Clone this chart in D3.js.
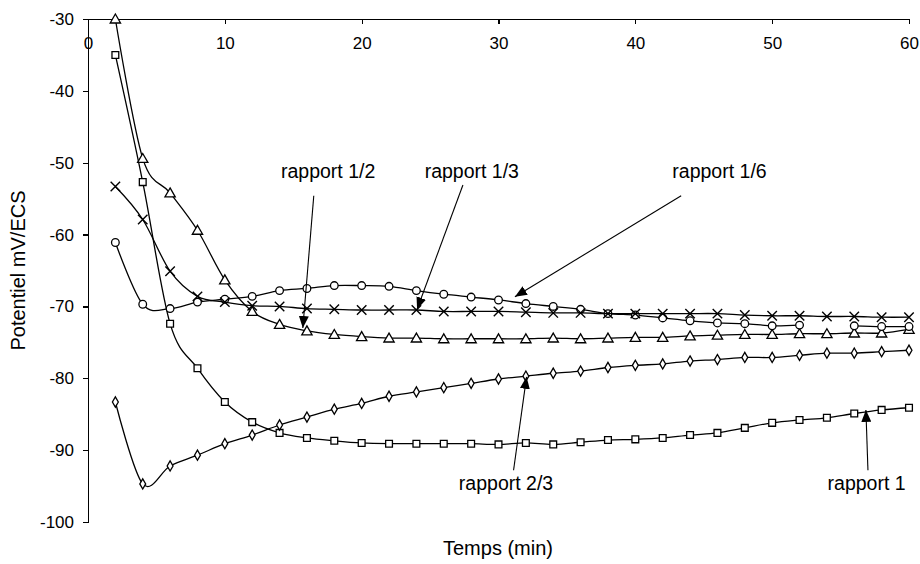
<!DOCTYPE html>
<html>
<head>
<meta charset="utf-8">
<script src="https://cdn.jsdelivr.net/npm/d3@7/dist/d3.min.js"></script>
<style>
  body { margin: 0; background: #fff; }
  svg { display: block; font-family: "Liberation Sans", Arial, sans-serif; }
  .axis path, .axis line { stroke: #000; stroke-width: 1.2; shape-rendering: crispEdges; }
  .axis text { font-size: 17px; fill: #000; }
</style>
</head>
<body>
<svg id="chart" width="920" height="564"></svg>
<script>
// temps (min)
var times = [2, 4, 6, 8, 10, 12, 14, 16, 18, 20, 22, 24, 26, 28, 30,
             32, 34, 36, 38, 40, 42, 44, 46, 48, 50, 52, 54, 56, 58, 60];

// potentiel mV/ECS pour chaque rapport
var rapport1 = [-35.0, -52.7, -72.4, -78.6, -83.3, -86.1, -87.6, -88.3, -88.7, -89.0,
                -89.1, -89.1, -89.1, -89.1, -89.2, -89.0, -89.2, -88.9, -88.6, -88.5,
                -88.3, -87.9, -87.6, -86.9, -86.2, -85.8, -85.5, -84.9, -84.4, -84.1];
var rapport12 = [-30.0, -49.4, -54.2, -59.4, -66.3, -70.7, -72.5, -73.4, -73.9, -74.2,
                 -74.4, -74.4, -74.5, -74.5, -74.5, -74.5, -74.4, -74.5, -74.4, -74.3,
                 -74.3, -74.1, -74.0, -73.9, -73.9, -73.8, -73.8, -73.7, -73.7, -73.2];
var rapport23 = [-83.3, -94.7, -92.2, -90.7, -89.1, -87.9, -86.5, -85.4, -84.3, -83.5,
                 -82.5, -81.9, -81.3, -80.7, -80.1, -79.7, -79.3, -79.0, -78.5, -78.2,
                 -78.0, -77.6, -77.4, -77.1, -77.1, -76.8, -76.5, -76.5, -76.3, -76.1];
var rapport16 = [-61.1, -69.7, -70.3, -69.4, -69.0, -68.6, -67.8, -67.5, -67.1, -67.1,
                 -67.2, -67.8, -68.3, -68.7, -69.1, -69.6, -70.0, -70.4, -71.0, -71.2,
                 -71.6, -72.0, -72.3, -72.4, -72.7, -72.6, null, -72.7, -72.8, -72.8];
var rapport13 = [-53.3, -57.9, -65.1, -68.6, -69.4, -69.9, -70.0, -70.3, -70.4, -70.5,
                 -70.5, -70.5, -70.7, -70.7, -70.7, -70.8, -70.9, -70.9, -71.0, -71.0,
                 -71.0, -71.0, -71.0, -71.2, -71.3, -71.3, -71.4, -71.4, -71.5, -71.5];

var xTicks = [0, 10, 20, 30, 40, 50, 60];
var yTicks = [-30, -40, -50, -60, -70, -80, -90, -100];

// annotations, en unites du graphique : texte, debut du trait, pointe de la fleche
var annLabels = ["rapport 1/2", "rapport 1/3", "rapport 1/6", "rapport 2/3", "rapport 1"];
var annText = [[17.55, -52.1], [28.05, -52.1], [46.15, -52.1], [30.55, -95.5], [56.9, -95.5]];
var annFrom = [[16.5, -54.6], [27.4, -53.1], [43.35, -54.6], [31.1, -92.8], [57.0, -92.8]];
var annTo   = [[15.7, -73.0], [24.05, -70.4], [31.2, -68.65], [32.05, -79.8], [56.85, -84.4]];

var svg = d3.select("#chart");

var x = d3.scaleLinear().domain([0, 60]).range([88, 909]);
var y = d3.scaleLinear().domain([-100, -30]).range([522, 19]);

var plain = function(d){ return String(d); };

// axe des x en haut (croise a -30), etiquettes sous la ligne
svg.append("g")
  .attr("class", "axis")
  .attr("transform", "translate(0," + y(-30) + ")")
  .call(d3.axisBottom(x).tickValues(xTicks).tickFormat(plain)
    .tickSize(5).tickSizeOuter(0).tickPadding(13));

svg.append("g")
  .attr("class", "axis")
  .attr("transform", "translate(" + x(0) + ",0)")
  .call(d3.axisLeft(y).tickValues(yTicks).tickFormat(plain)
    .tickSize(5).tickSizeOuter(0).tickPadding(9));

svg.append("text")
  .attr("transform", "translate(25," + ((y(-30) + y(-100)) / 2) + ") rotate(-90)")
  .attr("text-anchor", "middle")
  .style("font-size", "20px")
  .text("Potentiel mV/ECS");

svg.append("text")
  .attr("x", 498)
  .attr("y", 555)
  .attr("text-anchor", "middle")
  .style("font-size", "20px")
  .text("Temps (min)");

var series = [
  {vals: rapport1, mark: "square"},
  {vals: rapport12, mark: "triangle"},
  {vals: rapport23, mark: "diamond"},
  {vals: rapport16, mark: "circle"},
  {vals: rapport13, mark: "cross"}
];

var line = d3.line()
  .defined(function(d){ return d[1] !== null; })
  .x(function(d){ return x(d[0]); })
  .y(function(d){ return y(d[1]); })
  .curve(d3.curveCatmullRom.alpha(0));

var symbols = {
  square: d3.symbol().type(d3.symbolSquare).size(46),
  triangle: d3.symbol().type(d3.symbolTriangle).size(46),
  diamond: d3.symbol().type(d3.symbolDiamond).size(30),
  circle: d3.symbol().type(d3.symbolCircle).size(46),
  cross: d3.symbol().type(d3.symbolX).size(60)
};

series.forEach(function(s){
  var pts = times.map(function(t, i){ return [t, s.vals[i]]; });
  svg.append("path")
    .datum(pts)
    .attr("d", line)
    .attr("fill", "none")
    .attr("stroke", "#000")
    .attr("stroke-width", 1.3);
  svg.append("g").selectAll("path")
    .data(pts.filter(function(d){ return d[1] !== null; }))
    .join("path")
    .attr("transform", function(d){
      var dy = s.mark === "triangle" ? 1 : 0;
      return "translate(" + x(d[0]) + "," + (y(d[1]) + dy) + ")";
    })
    .attr("d", symbols[s.mark])
    .attr("fill", s.mark === "cross" ? "none" : "#fff")
    .attr("stroke", "#000")
    .attr("stroke-width", s.mark === "cross" ? 1.4 : 1.3);
});

// fleches
svg.append("defs").append("marker")
  .attr("id", "arrow")
  .attr("markerUnits", "userSpaceOnUse")
  .attr("viewBox", "0 0 12 10")
  .attr("refX", 12)
  .attr("refY", 5)
  .attr("markerWidth", 12)
  .attr("markerHeight", 10)
  .attr("orient", "auto")
  .append("path")
  .attr("d", "M0,0L12,5L0,10Z")
  .attr("fill", "#000");

annLabels.forEach(function(lab, i){
  svg.append("line")
    .attr("x1", x(annFrom[i][0]))
    .attr("y1", y(annFrom[i][1]))
    .attr("x2", x(annTo[i][0]))
    .attr("y2", y(annTo[i][1]))
    .attr("stroke", "#000")
    .attr("stroke-width", 1.1)
    .attr("marker-end", "url(#arrow)");
  svg.append("text")
    .attr("x", x(annText[i][0]))
    .attr("y", y(annText[i][1]))
    .attr("text-anchor", "middle")
    .style("font-size", "19.5px")
    .text(lab);
});
</script>
</body>
</html>
